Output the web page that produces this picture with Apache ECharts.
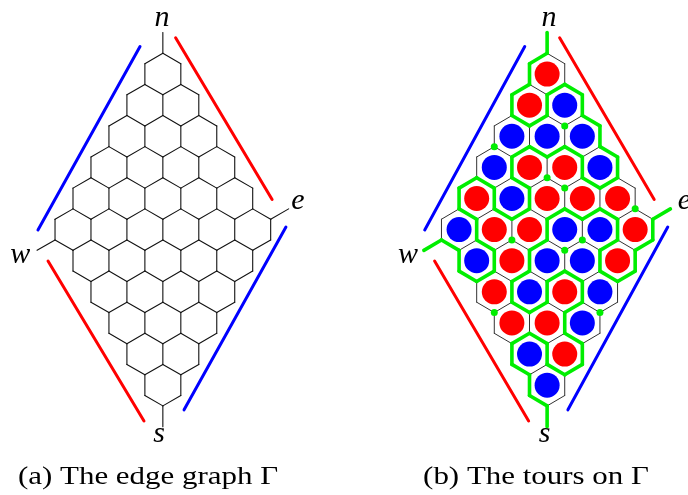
<!DOCTYPE html>
<html><head><meta charset="utf-8">
<script src="https://cdn.jsdelivr.net/npm/echarts@6/dist/echarts.min.js"></script>
<style>html,body{margin:0;padding:0;background:#fff}#c{width:688px;height:495px}</style>
</head><body><div id="c"></div>
<script>
// ---------------- data ----------------
// colour of every hexagon of panel (b), rows from the top, each row left to right
const hexColours = [
  ['red'],
  ['red', 'blue'],
  ['blue', 'blue', 'blue'],
  ['blue', 'red', 'red', 'blue'],
  ['red', 'blue', 'red', 'red', 'red'],
  ['blue', 'red', 'red', 'blue', 'blue', 'red'],
  ['blue', 'red', 'blue', 'blue', 'red'],
  ['red', 'blue', 'red', 'blue'],
  ['red', 'red', 'blue'],
  ['blue', 'red'],
  ['blue']
];
// colour of the region outside each side of the rhombus (the coloured bars)
const sideNames = ['nw', 'ne', 'sw', 'se'];
const sideColours = ['blue', 'red', 'red', 'blue'];
// corner terminals
const cornerLabels = ['n', 'e', 'w', 's'];
// captions
const captions = ['(a) The edge graph \u0393', '(b) The tours on \u0393'];

// ---------------- geometry (lattice units: x = half hex width, y = half radius) ----------------
const N = 6;
const outside = {};
sideNames.forEach((s, k) => outside[s] = sideColours[k]);
function colourAt(i, j) {
  if (j < 0) return outside.nw;
  if (j >= N) return outside.se;
  if (i < 0) return outside.ne;
  if (i >= N) return outside.sw;
  const r = i + j;
  return hexColours[r][j - Math.max(0, r - (N - 1))];
}
const centre = (i, j) => [j - i, 3 * (i + j)];
const dirs = [
  [[-1, 0], [0, -2], [1, -1]],
  [[-1, 1], [1, -1], [1, 1]],
  [[0, 1], [1, 1], [0, 2]],
  [[1, 0], [0, 2], [-1, 1]],
  [[1, -1], [-1, 1], [-1, -1]],
  [[0, -1], [-1, -1], [0, -2]]
];
const edges = [];
for (let i = 0; i < N; i++) for (let j = 0; j < N; j++) {
  const [X, Y] = centre(i, j);
  const c = colourAt(i, j);
  dirs.forEach(([d, va, vb]) => {
    const ni = i + d[0], nj = j + d[1];
    const inside = ni >= 0 && ni < N && nj >= 0 && nj < N;
    if (inside && (ni * N + nj) < (i * N + j)) return;
    edges.push({ a: [X + va[0], Y + va[1]], b: [X + vb[0], Y + vb[1]], green: colourAt(ni, nj) !== c });
  });
}
// stubs at the four corners
const cornerDefs = [
  { v: [centre(0, 0)[0], centre(0, 0)[1] - 2], d: [0, -2], s: ['nw', 'ne'] },
  { v: [centre(0, N - 1)[0] + 1, centre(0, N - 1)[1] - 1], d: [1, -1], s: ['ne', 'se'] },
  { v: [centre(N - 1, 0)[0] - 1, centre(N - 1, 0)[1] + 1], d: [-1, 1], s: ['nw', 'sw'] },
  { v: [centre(N - 1, N - 1)[0], centre(N - 1, N - 1)[1] + 2], d: [0, 2], s: ['sw', 'se'] }
];
cornerDefs.forEach(c => edges.push({ a: c.v, b: [c.v[0] + c.d[0], c.v[1] + c.d[1]], green: outside[c.s[0]] !== outside[c.s[1]] }));
// vertices: degree 3 with no green edge -> dot
const vmap = {};
edges.forEach(e => [e.a, e.b].forEach(p => {
  const k = p.join(',');
  if (!vmap[k]) vmap[k] = { p, deg: 0, green: 0 };
  vmap[k].deg++; if (e.green) vmap[k].green++;
}));
const dots = Object.values(vmap).filter(v => v.deg === 3 && v.green === 0).map(v => v.p);
const circles = [];
for (let i = 0; i < N; i++) for (let j = 0; j < N; j++) circles.push({ value: centre(i, j), itemStyle: { color: colourAt(i, j) === 'red' ? '#ff0000' : '#0000ff', opacity: 1 } });

// coloured bars beside the sides (lattice units)
const bars = [
  { a: [-1.27, -2.65], b: [-6.95, 15.04], c: '#0000ff' },
  { a: [0.71, -3.5], b: [6.08, 12.1], c: '#ff0000' },
  { a: [-6.39, 18.03], b: [-1.05, 33.46], c: '#ff0000' },
  { a: [6.85, 14.75], b: [1.18, 32.38], c: '#0000ff' }
];
const labelPos = [
  [[-0.05, -5.4], [7.52, 12.29], [-7.93, 17.5], [-0.21, 34.76]],
  [[0.1, -5.4], [7.8, 12.29], [-7.9, 17.5], [-0.15, 34.76]]
];

// ---------------- layout ----------------
const UX = 17.97, UY = 10.37, Y0 = 74.05;
const panelCx = [162.85, 550];
const xMin = -8, xMax = 8, yMin = -6, yMax = 38;
const grid = panelCx.map(cx => ({ left: cx + xMin * UX, top: Y0 + yMin * UY, width: (xMax - xMin) * UX, height: (yMax - yMin) * UY }));
const xAxis = panelCx.map((_, k) => ({ type: 'value', gridIndex: k, min: xMin, max: xMax, show: false }));
const yAxis = panelCx.map((_, k) => ({ type: 'value', gridIndex: k, min: yMin, max: yMax, inverse: true, show: false }));

function segSeries(k, list, colorFn, width, z) {
  return {
    type: 'custom', xAxisIndex: k, yAxisIndex: k, z, clip: false, silent: true,
    encode: { x: [0, 2], y: [1, 3] },
    data: list.map(e => [e.a[0], e.a[1], e.b[0], e.b[1]]),
    renderItem(params, api) {
      const p = api.coord([api.value(0), api.value(1)]);
      const q = api.coord([api.value(2), api.value(3)]);
      return { type: 'line', shape: { x1: p[0], y1: p[1], x2: q[0], y2: q[1] },
        style: { stroke: colorFn(params.dataIndex), lineWidth: width, lineCap: 'round' } };
    }
  };
}
function labelSeries(k) {
  return {
    type: 'custom', xAxisIndex: k, yAxisIndex: k, z: 5, clip: false, silent: true,
    data: labelPos[k].map(p => [p[0], p[1]]),
    renderItem(params, api) {
      const p = api.coord([api.value(0), api.value(1)]);
      return { type: 'text', x: p[0], y: p[1],
        style: { text: cornerLabels[params.dataIndex], fill: '#000', font: 'italic 30px "Liberation Serif", serif', align: 'center', verticalAlign: 'middle' } };
    }
  };
}
const series = [];
[0, 1].forEach(k => {
  series.push(segSeries(k, bars, idx => bars[idx].c, 3, 1));
  series.push(segSeries(k, edges, () => (k === 0 ? '#111' : '#333'), k === 0 ? 1.1 : 1, 2));
  series.push(labelSeries(k));
});
series.push(segSeries(1, edges.filter(e => e.green), () => '#00ee00', 3.6, 3));
series.push({ type: 'scatter', xAxisIndex: 1, yAxisIndex: 1, z: 4, silent: true, symbol: 'circle', symbolSize: 25, itemStyle: { opacity: 1 }, data: circles });
series.push({ type: 'scatter', xAxisIndex: 1, yAxisIndex: 1, z: 4, silent: true, symbol: 'circle', symbolSize: 7, itemStyle: { color: '#00ee00', opacity: 1 }, data: dots });

const chart = echarts.init(document.getElementById('c'));
chart.setOption({
  animation: false,
  backgroundColor: '#fff',
  grid, xAxis, yAxis, series,
  graphic: captions.map((t, k) => ({
    type: 'text', x: [148, 536][k], y: 477, scaleX: 1.19, silent: true,
    style: { text: t, fill: '#000', font: '26px "Liberation Serif", serif', align: 'center', verticalAlign: 'middle' }
  }))
});
</script></body></html>
